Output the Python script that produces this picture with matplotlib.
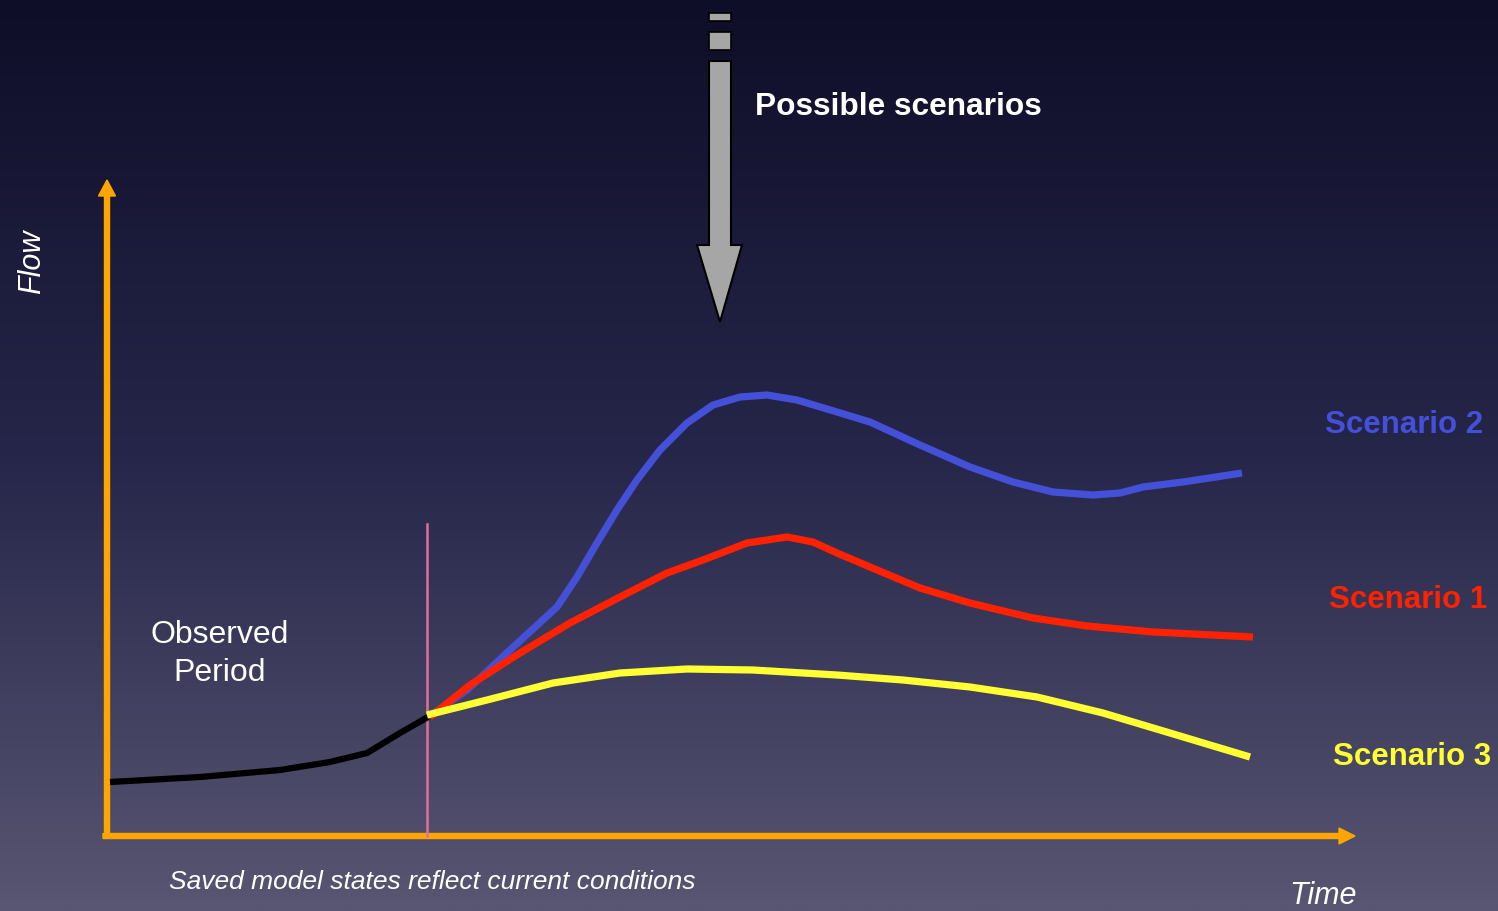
import numpy as np
import matplotlib.pyplot as plt
from matplotlib.patches import Polygon, Rectangle

plt.rcParams['font.family'] = ['Liberation Sans', 'DejaVu Sans']

# observed period (time, flow)
obs_t = [3, 93, 173, 223, 260, 293, 321]
obs_f = [54, 59, 66, 74, 83, 103, 119]

# forecast scenarios starting at the end of the observed period
s2_t = [323, 360, 403, 450, 470, 490, 510, 530, 553, 580, 606, 633, 660, 690, 730,
        763, 813, 863, 906, 946, 986, 1013, 1036, 1076, 1135]
s2_f = [120, 146, 186, 229, 259, 293, 326, 356, 386, 413, 431, 439, 441, 436, 424,
        414, 391, 369, 354, 344, 341, 343, 349, 354, 363]

s1_t = [323, 363, 413, 463, 513, 560, 596, 640, 680, 706, 730, 763, 813, 863, 926, 980, 1046, 1146]
s1_f = [119, 151, 183, 213, 239, 263, 276, 293, 299, 294, 283, 269, 248, 233, 218, 210, 204, 199]

s3_t = [320, 380, 446, 513, 580, 646, 730, 796, 863, 930, 996, 1063, 1143]
s3_f = [121, 136, 153, 163, 167, 166, 161, 156, 149, 139, 123, 103, 79]

now_t = 320
scen_names = ['Scenario 2', 'Scenario 1', 'Scenario 3']
scen_colors = ['#4450d8', '#ff2200', '#ffff33']

fig = plt.figure(figsize=(14.98, 9.11), dpi=100)
ax = fig.add_axes([0, 0, 1, 1])
ax.axis('off')

# background gradient, dark navy at the top to grey-violet at the bottom
top = np.array([14, 14, 40]) / 255
mid = np.array([38, 38, 74]) / 255
bot = np.array([88, 86, 114]) / 255
v = np.linspace(0, 1, 400)[:, None]
grad = np.where(v < 0.5, top + (mid - top) * (v / 0.5), mid + (bot - mid) * ((v - 0.5) / 0.5))
ax.imshow(grad.reshape(400, 1, 3), extent=[-107, 1391, -75, 836], origin='upper',
          aspect='auto', zorder=0)
ax.set_xlim(-107, 1391)
ax.set_ylim(-75, 836)

# axes arrows
orange = '#ffa500'
ax.arrow(0, -2, 0, 658, width=5, head_width=17, head_length=16,
         length_includes_head=True, color=orange, zorder=2)
ax.arrow(-4, 0, 1252, 0, width=5, head_width=16, head_length=16,
         length_includes_head=True, color=orange, zorder=2)

# "now" marker
ax.plot([now_t, now_t], [0, 312], color='#e0709a', lw=1.8, zorder=2)

ax.plot(obs_t, obs_f, color='black', lw=4.5, solid_capstyle='butt', zorder=4)
ax.plot(s2_t, s2_f, color=scen_colors[0], lw=5.2, solid_joinstyle='round', solid_capstyle='butt', zorder=3)
ax.plot(s1_t, s1_f, color=scen_colors[1], lw=5.2, solid_joinstyle='round', solid_capstyle='butt', zorder=3)
ax.plot(s3_t, s3_f, color=scen_colors[2], lw=5.2, solid_joinstyle='round', solid_capstyle='butt', zorder=4)

# grey block arrow pointing down
grey = '#a6a6a6'
ax.add_patch(Rectangle((602, 815), 22, 8, fc=grey, ec='black', lw=1.2, zorder=3))
ax.add_patch(Rectangle((602, 786), 22, 18, fc=grey, ec='black', lw=1.2, zorder=3))
ax.add_patch(Polygon([(602, 775), (624, 775), (624, 591), (635, 591), (613, 514),
                      (590, 591), (602, 591)], closed=True, fc=grey, ec='black', lw=1.5, zorder=3))

ax.text(648, 729, 'Possible scenarios', color='white', fontsize=22.8, fontweight='bold',
        va='center', ha='left')

ax.text(113, 182, 'Observed\nPeriod', color='white', fontsize=23, ha='center', va='center',
        linespacing=1.32)

ax.text(-75, 574, 'Flow', color='white', fontsize=22, style='italic', rotation=90,
        ha='center', va='center')
ax.text(1216, -60, 'Time', color='white', fontsize=22, style='italic', ha='center', va='center')
ax.text(325, -46, 'Saved model states reflect current conditions', color='white',
        fontsize=19, style='italic', ha='center', va='center')

label_t = [1218, 1222, 1226]
label_f = [411, 236, 79]
for name, col, t, f in zip(scen_names, scen_colors, label_t, label_f):
    ax.text(t, f, name, color=col, fontsize=22.5, fontweight='bold', ha='left', va='center')

fig.savefig('out.png', dpi=100)
